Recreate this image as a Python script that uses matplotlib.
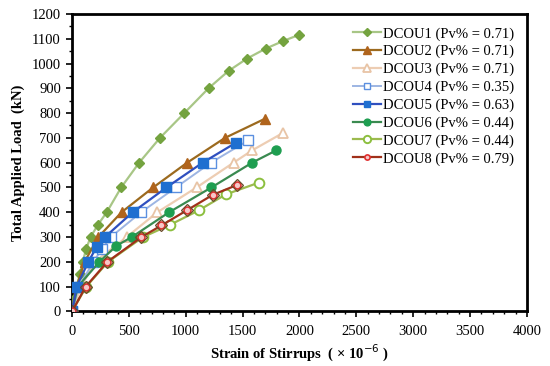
import matplotlib
matplotlib.use("Agg")
import matplotlib.pyplot as plt
from matplotlib.ticker import MultipleLocator

plt.rcParams['font.family'] = ['Liberation Serif', 'DejaVu Serif']

# Data (strain x10^-6, load kN)
dcou1_x = [0, 20, 40, 68, 95, 122, 163, 228, 305, 432, 590, 773, 987, 1200, 1376, 1539, 1703, 1853, 1993]
dcou1_y = [0, 50, 100, 150, 200, 250, 300, 350, 400, 500, 600, 700, 800, 900, 970, 1020, 1060, 1090, 1115]

dcou2_x = [0, 40, 110, 231, 435, 713, 1012, 1345, 1700]
dcou2_y = [0, 100, 200, 300, 400, 500, 600, 700, 778]

dcou3_x = [0, 80, 200, 480, 750, 1095, 1420, 1585, 1855]
dcou3_y = [0, 100, 200, 300, 400, 500, 600, 650, 720]

dcou4_x = [0, 60, 187, 260, 340, 607, 913, 1221, 1550]
dcou4_y = [0, 100, 200, 250, 300, 400, 500, 600, 690]

dcou5_x = [0, 40, 143, 216, 289, 533, 830, 1148, 1439]
dcou5_y = [0, 100, 200, 260, 300, 400, 500, 600, 680]

dcou6_x = [0, 50, 240, 390, 525, 853, 1225, 1583, 1797]
dcou6_y = [0, 100, 200, 265, 300, 400, 500, 600, 650]

dcou7_x = [0, 125, 316, 624, 865, 1115, 1352, 1645]
dcou7_y = [0, 100, 200, 300, 350, 408, 472, 520]

dcou8_x = [0, 120, 310, 610, 786, 1010, 1236, 1450]
dcou8_y = [0, 100, 200, 300, 347, 408, 470, 510]

labels = ["DCOU1 (Pv% = 0.71)", "DCOU2 (Pv% = 0.71)", "DCOU3 (Pv% = 0.71)",
          "DCOU4 (Pv% = 0.35)", "DCOU5 (Pv% = 0.63)", "DCOU6 (Pv% = 0.44)",
          "DCOU7 (Pv% = 0.44)", "DCOU8 (Pv% = 0.79)"]

fig = plt.figure(figsize=(5.5, 3.66), dpi=100)
ax = fig.add_axes([0.131, 0.149, 0.827, 0.813])

ax.plot(dcou1_x, dcou1_y, color='#a8c686', lw=1.6, marker='D', ms=5.5,
        mfc='#74a33f', mec='#74a33f', label=labels[0], zorder=3)
ax.plot(dcou2_x, dcou2_y, color='#9c6a1e', lw=1.6, marker='^', ms=7,
        mfc='#b0641c', mec='#b0641c', label=labels[1], zorder=3)
ax.plot(dcou3_x, dcou3_y, color='#edcdb3', lw=1.6, marker='^', ms=7,
        mfc='white', mec='#e8c4a6', mew=1.3, label=labels[2], zorder=3)
ax.plot(dcou4_x, dcou4_y, color='#9db5e3', lw=1.4, marker='s', ms=6.5,
        mfc='white', mec='#5b8fe0', mew=1.0, label=labels[3], zorder=3)
ax.plot(dcou5_x, dcou5_y, color='#2f4fbf', lw=1.6, marker='s', ms=6.5,
        mfc='#1f6fd0', mec='#1f6fd0', label=labels[4], zorder=4)
ax.plot(dcou6_x, dcou6_y, color='#3a8a50', lw=1.6, marker='o', ms=6.5,
        mfc='#1e9e50', mec='#1e9e50', label=labels[5], zorder=3)
ax.plot(dcou7_x, dcou7_y, color='#9cba4e', lw=1.6, marker='o', ms=7,
        mfc='white', mec='#8cbf3f', mew=1.4, label=labels[6], zorder=3)
ax.plot(dcou8_x, dcou8_y, color='#a0301a', lw=1.6, marker='o', ms=5,
        mfc='#f6c8c8', mec='#e03030', mew=1.2, label=labels[7], zorder=4)
ax.plot(dcou8_x, dcou8_y, ls='none', marker='D', ms=6,
        mfc='none', mec='#6b4a2a', mew=0.9, zorder=5)

ax.set_xlim(0, 4000)
ax.set_ylim(0, 1200)
ax.xaxis.set_major_locator(MultipleLocator(500))
ax.xaxis.set_minor_locator(MultipleLocator(100))
ax.yaxis.set_major_locator(MultipleLocator(100))
ax.yaxis.set_minor_locator(MultipleLocator(50))
ax.tick_params(which='major', direction='out', length=4, width=1.2, labelsize=10.5)
ax.tick_params(axis='x', which='major', pad=6)
ax.tick_params(axis='y', which='major', pad=4)
ax.tick_params(which='minor', direction='out', length=2.5, width=1.0)
for s in ax.spines.values():
    s.set_linewidth(2.0)
    s.set_color('black')

ax.set_xlabel('Strain of Stirrups  ( \u00d7 10$^{-6}$ )', fontsize=10.5, fontweight='bold', labelpad=3)
ax.set_ylabel('Total Applied Load  (kN)', fontsize=10.5, fontweight='bold', labelpad=5)

leg = ax.legend(loc='upper right', frameon=False, fontsize=10.5, handlelength=1.9,
                handletextpad=0.1, labelspacing=0.3, borderaxespad=0.5,
                markerscale=0.75, bbox_to_anchor=(1.0, 1.0))

fig.savefig('out.png', dpi=100)
